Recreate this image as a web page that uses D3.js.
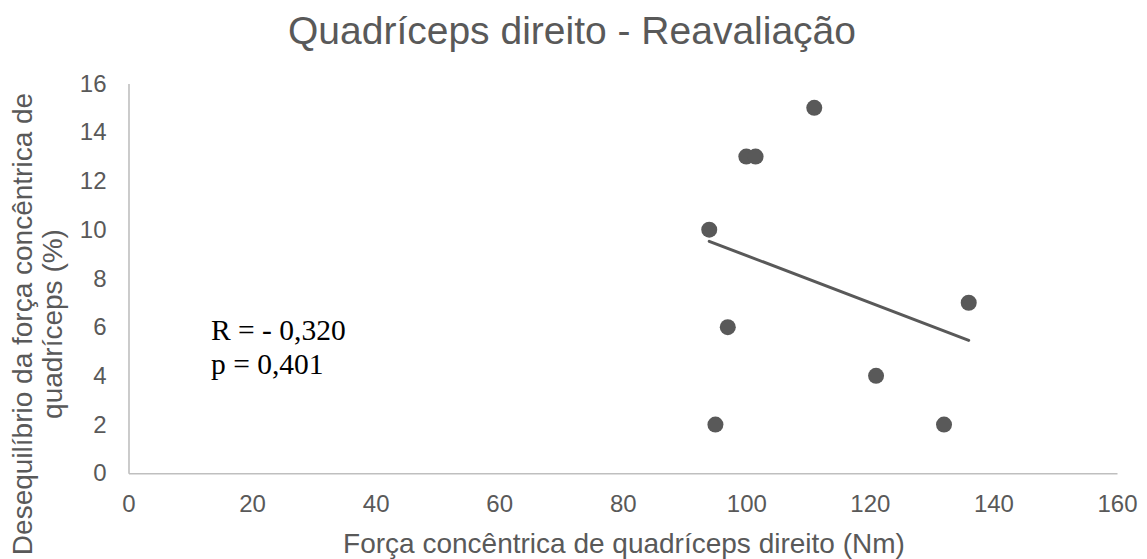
<!DOCTYPE html>
<html>
<head>
<meta charset="utf-8">
<script src="https://cdn.jsdelivr.net/npm/d3@7"></script>
<style>
  html, body { margin: 0; padding: 0; background: #ffffff; }
  svg { display: block; }
</style>
</head>
<body>
<svg id="chart" width="1147" height="559"></svg>
<script>
// Peak concentric force (Nm) vs. concentric force imbalance (%), right quadriceps, reassessment
const forceNm = [111, 100, 101.5, 94, 97, 136, 121, 95, 132];
const imbalancePct = [15, 13, 13, 10, 6, 7, 4, 2, 2];
const xTicks = [0, 20, 40, 60, 80, 100, 120, 140, 160];
const yTicks = [0, 2, 4, 6, 8, 10, 12, 14, 16];
const statsLines = ["R = - 0,320", "p = 0,401"];

const titleText = "Quadríceps direito - Reavaliação";
const xTitle = "Força concêntrica de quadríceps direito (Nm)";
const yTitleLines = ["Desequilíbrio da força concêntrica de", "quadríceps (%)"];

const ink = "#595959";
const axisGrey = "#bfbfbf";
const sans = "'Liberation Sans', Arial, sans-serif";
const serif = "'Liberation Serif', 'Times New Roman', serif";

const svg = d3.select("#chart");
const plot = { left: 128.5, right: 1117, top: 83.5, bottom: 473.3 };

const x = d3.scaleLinear().domain([0, 160]).range([plot.left, plot.right]);
const y = d3.scaleLinear().domain([0, 16]).range([plot.bottom, plot.top]);

// Title
svg.append("text")
  .attr("x", 572).attr("y", 44)
  .attr("text-anchor", "middle")
  .attr("font-family", sans).attr("font-size", 39)
  .attr("fill", ink)
  .text(titleText);

// Axes: bare lines with labels, no tick marks
const xAxis = svg.append("g")
  .attr("transform", `translate(0,${plot.bottom})`)
  .call(d3.axisBottom(x).tickValues(xTicks).tickSize(0).tickPadding(22).tickFormat(d3.format("d")));
const yAxis = svg.append("g")
  .attr("transform", `translate(${plot.left},0)`)
  .call(d3.axisLeft(y).tickValues(yTicks).tickSize(0).tickPadding(22).tickFormat(d3.format("d")));

[xAxis, yAxis].forEach(g => {
  g.select(".domain").attr("stroke", axisGrey).attr("stroke-width", 1.6);
  g.selectAll("text")
    .attr("font-family", sans).attr("font-size", 24)
    .attr("fill", ink);
});
yAxis.select(".domain").raise();

// Axis titles
svg.append("text")
  .attr("x", 624).attr("y", 553)
  .attr("text-anchor", "middle")
  .attr("font-family", sans).attr("font-size", 28)
  .attr("fill", ink)
  .text(xTitle);

const yTitle = svg.append("text")
  .attr("transform", "translate(0,324) rotate(-90)")
  .attr("text-anchor", "middle")
  .attr("font-family", sans).attr("font-size", 28)
  .attr("fill", ink);
yTitle.selectAll("tspan")
  .data(yTitleLines)
  .join("tspan")
  .attr("x", 0)
  .attr("y", (d, i) => 32 + i * 30)
  .text(d => d);

// Least-squares trend line over the observed force range
const n = forceNm.length;
const mx = d3.mean(forceNm), my = d3.mean(imbalancePct);
let sxy = 0, sxx = 0;
for (let i = 0; i < n; i++) {
  sxy += (forceNm[i] - mx) * (imbalancePct[i] - my);
  sxx += (forceNm[i] - mx) ** 2;
}
const slope = sxy / sxx;
const intercept = my - slope * mx;
const [xMin, xMax] = d3.extent(forceNm);

svg.append("line")
  .attr("x1", x(xMin)).attr("y1", y(intercept + slope * xMin))
  .attr("x2", x(xMax)).attr("y2", y(intercept + slope * xMax))
  .attr("stroke", ink).attr("stroke-width", 3)
  .attr("stroke-linecap", "round");

// Points
svg.append("g")
  .selectAll("circle")
  .data(forceNm.map((f, i) => [f, imbalancePct[i]]))
  .join("circle")
  .attr("cx", d => x(d[0]))
  .attr("cy", d => y(d[1]))
  .attr("r", 8)
  .attr("fill", ink);

// Correlation statistics
svg.append("g")
  .selectAll("text")
  .data(statsLines)
  .join("text")
  .attr("x", 211)
  .attr("y", (d, i) => 340 + i * 34)
  .attr("font-family", serif).attr("font-size", 29.5)
  .attr("fill", "#000000")
  .text(d => d);
</script>
</body>
</html>
